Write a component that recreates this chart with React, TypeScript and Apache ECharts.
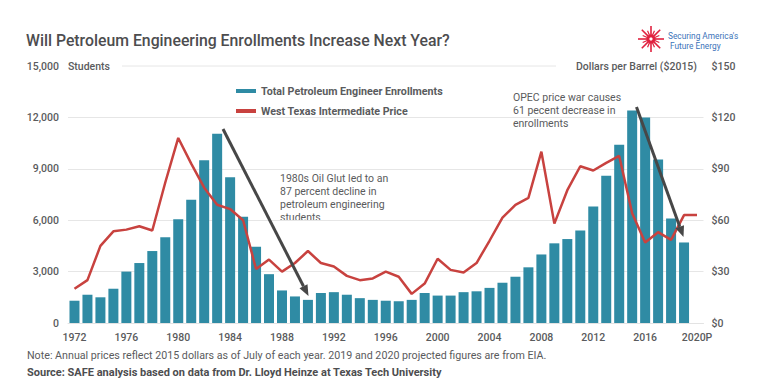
import React, { useEffect, useRef } from "react";
import * as echarts from "echarts";

const years: string[] = [
  "1972","1973","1974","1975","1976","1977","1978","1979","1980","1981",
  "1982","1983","1984","1985","1986","1987","1988","1989","1990","1991",
  "1992","1993","1994","1995","1996","1997","1998","1999","2000","2001",
  "2002","2003","2004","2005","2006","2007","2008","2009","2010","2011",
  "2012","2013","2014","2015","2016","2017","2018","2019","2020P",
];

const enrollments: (number | null)[] = [
  1300, 1650, 1500, 2000, 3000, 3500, 4200, 5000, 6050, 7200,
  9500, 11050, 8500, 6200, 4450, 2850, 1900, 1550, 1350, 1750,
  1800, 1650, 1450, 1350, 1300, 1270, 1350, 1750, 1600, 1600,
  1800, 1850, 2050, 2350, 2700, 3250, 4000, 4650, 4900, 5400,
  6800, 8600, 10400, 12400, 12000, 9550, 6100, 4700, null,
];

const wtiPrice: number[] = [
  20, 25, 45, 53.5, 54.5, 56.5, 54, 82, 108, 93,
  79, 69, 66.5, 60, 31.5, 37, 30, 35, 42, 35,
  33, 27.5, 25, 26, 30, 27, 17, 23, 37.5, 31,
  29.5, 35, 48, 61.5, 69, 73, 100, 58, 77.5, 91.5,
  89, 93.5, 97.5, 64, 47, 53, 48.5, 63, 63,
];

const leftTicks = { min: 0, max: 15000, interval: 3000 };
const rightTicks = { min: 0, max: 150, interval: 30 };

const TEXT = "#5a5b5d";
const TEAL = "#2f8ba4";
const RED = "#c8423f";
const ARROW = "#474747";
const FONT = "Roboto, 'Noto Sans', sans-serif";

function arrow(x1: number, y1: number, x2: number, y2: number) {
  const ang = Math.atan2(y2 - y1, x2 - x1);
  const len = 11;
  const half = 4.5;
  const bx = x2 - len * Math.cos(ang);
  const by = y2 - len * Math.sin(ang);
  const px = -Math.sin(ang);
  const py = Math.cos(ang);
  return [
    {
      type: "line",
      shape: { x1, y1, x2: bx, y2: by },
      style: { stroke: ARROW, lineWidth: 3 },
      z: 100,
    },
    {
      type: "polygon",
      shape: {
        points: [
          [x2, y2],
          [bx + px * half, by + py * half],
          [bx - px * half, by - py * half],
        ],
      },
      style: { fill: ARROW },
      z: 100,
    },
  ];
}

function logo(cx: number, cy: number) {
  const els: any[] = [];
  const n = 16;
  for (let i = 0; i < n; i++) {
    const a = (i / n) * Math.PI * 2;
    const r2 = i % 2 === 0 ? 13 : 9;
    els.push({
      type: "line",
      shape: {
        x1: cx + Math.cos(a) * 4,
        y1: cy + Math.sin(a) * 4,
        x2: cx + Math.cos(a) * r2,
        y2: cy + Math.sin(a) * r2,
      },
      style: { stroke: "#e0213f", lineWidth: i % 2 === 0 ? 1.6 : 1.2 },
    });
  }
  els.push({ type: "circle", shape: { cx, cy, r: 4.5 }, style: { fill: "#e0213f" } });
  els.push({ type: "circle", shape: { cx, cy, r: 1.6 }, style: { fill: "#ffffff" } });
  return els;
}

export default function App() {
  const ref = useRef<HTMLDivElement>(null);

  useEffect(() => {
    if (!ref.current) return;
    const chart = echarts.init(ref.current, undefined, { renderer: "svg" });

    const option: any = {
      animation: false,
      backgroundColor: "#ffffff",
      textStyle: { fontFamily: FONT },
      grid: { left: 68, right: 53.5, top: 66, bottom: 67, containLabel: false },
      legend: {
        orient: "vertical",
        left: 231,
        top: 79,
        icon: "rect",
        itemWidth: 20,
        itemHeight: 4,
        itemGap: 6,
        textStyle: { color: TEXT, fontSize: 10.7, fontWeight: "bold", lineHeight: 14, fontFamily: FONT },
        data: ["Total Petroleum Engineer Enrollments", "West Texas Intermediate Price"],
      },
      xAxis: {
        type: "category",
        data: years,
        boundaryGap: true,
        axisLine: { show: true, lineStyle: { color: "#e3e3e3", width: 1 } },
        axisTick: { show: false },
        axisLabel: {
          interval: 3,
          color: TEXT,
          fontSize: 10.5,
          fontWeight: 500,
          margin: 9,
          fontFamily: FONT,
        },
      },
      yAxis: [
        {
          type: "value",
          min: leftTicks.min,
          max: leftTicks.max,
          interval: leftTicks.interval,
          axisLine: { show: false },
          axisTick: { show: false },
          axisLabel: {
            color: TEXT,
            fontSize: 10.5,
            fontWeight: 500,
            margin: 9,
            fontFamily: FONT,
            formatter: (v: number) => v.toLocaleString("en-US"),
          },
          splitLine: {
            show: true,
            lineStyle: {
              color: ["#e6e6e6", "#e6e6e6", "#e6e6e6", "#e6e6e6", "#e6e6e6", "rgba(0,0,0,0)"],
              width: 1,
            },
          },
        },
        {
          type: "value",
          min: rightTicks.min,
          max: rightTicks.max,
          interval: rightTicks.interval,
          axisLine: { show: false },
          axisTick: { show: false },
          splitLine: { show: false },
          axisLabel: {
            color: TEXT,
            fontSize: 10.5,
            fontWeight: 500,
            margin: 8,
            fontFamily: FONT,
            formatter: (v: number) => "$" + v,
          },
        },
      ],
      series: [
        {
          name: "Total Petroleum Engineer Enrollments",
          type: "bar",
          yAxisIndex: 0,
          data: enrollments,
          barWidth: 10,
          itemStyle: { color: TEAL },
          z: 2,
        },
        {
          name: "West Texas Intermediate Price",
          type: "line",
          yAxisIndex: 1,
          data: wtiPrice,
          symbol: "none",
          itemStyle: { color: RED },
          lineStyle: { color: RED, width: 2.5 },
          z: 3,
        },
      ],
      graphic: [
        {
          type: "text",
          left: 26,
          top: 32,
          style: {
            text: "Will Petroleum Engineering Enrollments Increase Next Year?",
            fill: "#4d4d4f",
            font: `500 15.8px ${FONT}`,
          },
        },
        {
          type: "text",
          x: 68,
          y: 66,
          style: {
            text: "Students",
            fill: TEXT,
            font: `500 10.5px ${FONT}`,
            textVerticalAlign: "middle",
          },
        },
        {
          type: "line",
          shape: { x1: 122, y1: 66, x2: 556, y2: 66 },
          style: { stroke: "#e6e6e6", lineWidth: 1 },
        },
        {
          type: "text",
          x: 697,
          y: 66,
          style: {
            text: "Dollars per Barrel ($2015)",
            fill: TEXT,
            font: `500 10.5px ${FONT}`,
            textAlign: "right",
            textVerticalAlign: "middle",
          },
        },
        ...logo(651, 39),
        {
          type: "text",
          x: 668,
          y: 35.5,
          style: {
            text: "Securing America's",
            fill: "#3b73b9",
            font: `8.3px ${FONT}`,
            textVerticalAlign: "middle",
          },
        },
        {
          type: "text",
          x: 670,
          y: 45.5,
          style: {
            text: "Future Energy",
            fill: "#3b73b9",
            font: `8.3px ${FONT}`,
            textVerticalAlign: "middle",
          },
        },
        {
          type: "text",
          x: 280,
          y: 171.5,
          style: {
            text: "1980s Oil Glut led to an\n87 percent decline in\npetroleum engineering\nstudents",
            fill: TEXT,
            font: `10.5px ${FONT}`,
            lineHeight: 13,
          },
        },
        {
          type: "text",
          x: 513,
          y: 91,
          style: {
            text: "OPEC price war causes\n61 pecent decrease in\nenrollments",
            fill: TEXT,
            font: `10.5px ${FONT}`,
            lineHeight: 13,
          },
        },
        ...arrow(223, 129, 308.5, 296),
        ...arrow(636.5, 107, 683.5, 237),
        {
          type: "text",
          x: 27,
          y: 355,
          style: {
            text: "Note: Annual prices reflect 2015 dollars as of July of each year. 2019 and 2020 projected figures are from EIA.",
            fill: TEXT,
            font: `10.7px ${FONT}`,
            textVerticalAlign: "middle",
          },
        },
        {
          type: "text",
          x: 27,
          y: 372,
          style: {
            text: "Source: SAFE analysis based on data from Dr. Lloyd Heinze at Texas Tech University",
            fill: "#4d4d4f",
            font: `bold 11px ${FONT}`,
            textVerticalAlign: "middle",
          },
        },
      ],
    };

    chart.setOption(option);
    return () => chart.dispose();
  }, []);

  return (
    <div
      ref={ref}
      style={{ position: "fixed", left: 0, top: 0, width: 757, height: 390 }}
    />
  );
}
